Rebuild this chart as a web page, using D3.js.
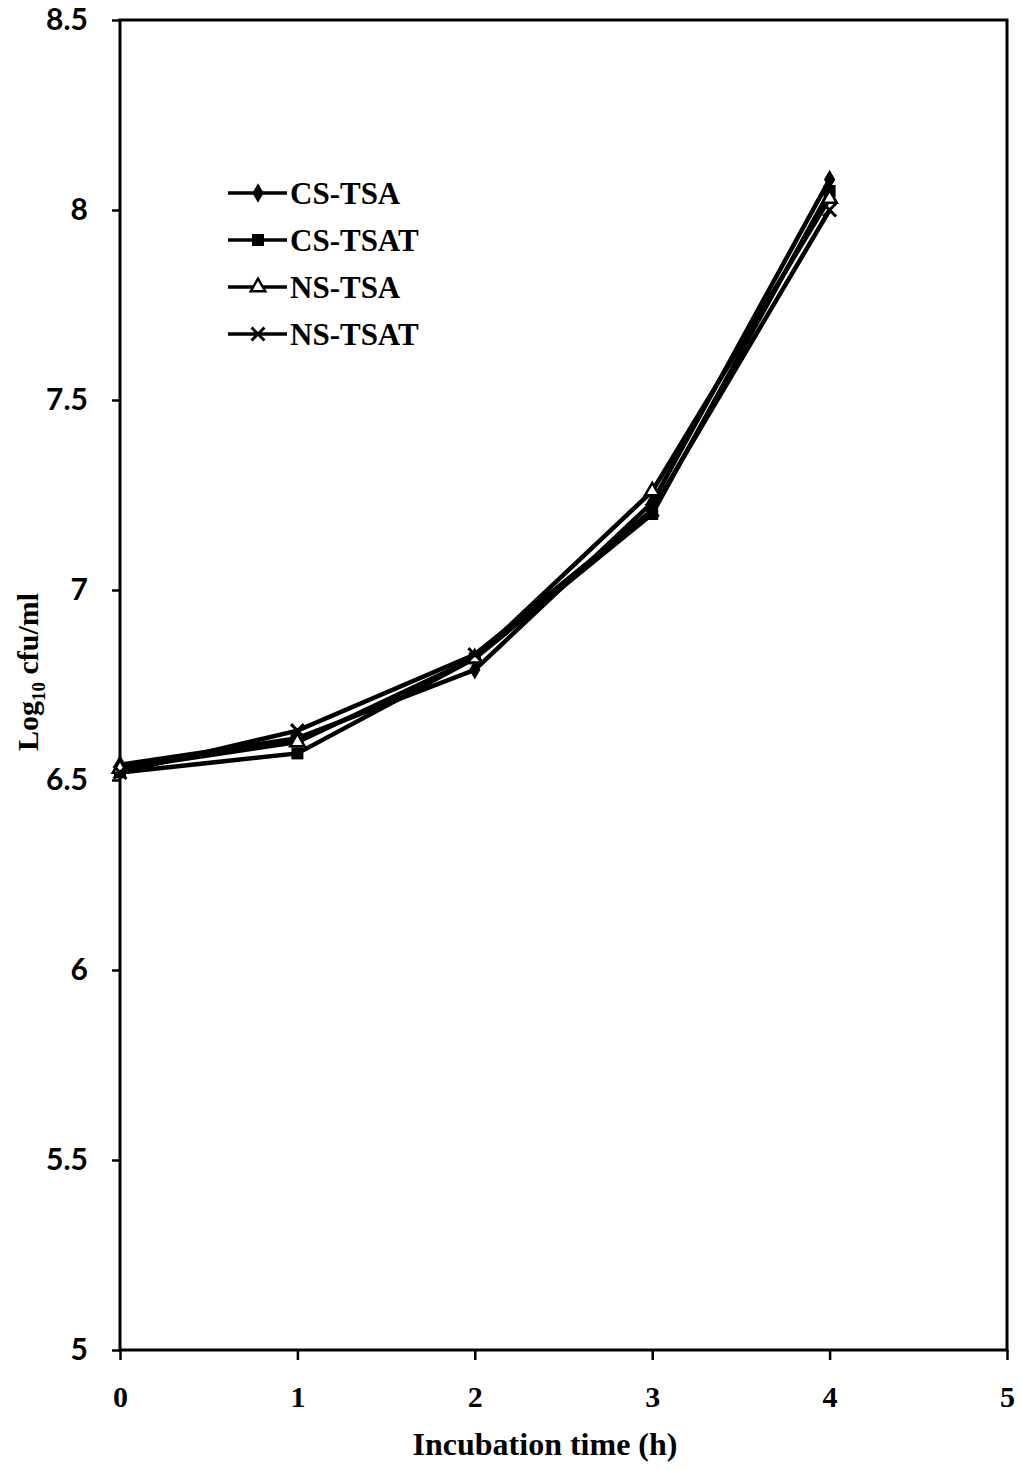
<!DOCTYPE html>
<html>
<head>
<meta charset="utf-8">
<script src="https://cdn.jsdelivr.net/npm/d3@7"></script>
<style>
  body { margin: 0; background: #fff; }
  svg { display: block; }
</style>
</head>
<body>
<svg id="chart" width="1021" height="1470"></svg>
<script>
const hours = [0, 1, 2, 3, 4];
const csTsa = [6.54, 6.61, 6.79, 7.23, 8.08];
const csTsat = [6.52, 6.57, 6.82, 7.20, 8.05];
const nsTsa = [6.53, 6.60, 6.82, 7.26, 8.03];
const nsTsat = [6.52, 6.63, 6.83, 7.21, 8.00];
const seriesNames = ["CS-TSA", "CS-TSAT", "NS-TSA", "NS-TSAT"];
const markers = ["diamond", "square", "triangle", "cross"];
const xTicks = [0, 1, 2, 3, 4, 5];
const yTicks = [5, 5.5, 6, 6.5, 7, 7.5, 8, 8.5];

const svg = d3.select("#chart");
const mLeft = 120, mRight = 1007, mTop = 20, mBottom = 1350;

const x = d3.scaleLinear().domain([0, 5]).range([mLeft, mRight]);
const y = d3.scaleLinear().domain([5, 8.5]).range([mBottom, mTop]);

// frame
svg.append("rect")
  .attr("x", mLeft).attr("y", mTop)
  .attr("width", mRight - mLeft).attr("height", mBottom - mTop)
  .attr("fill", "none").attr("stroke", "#000").attr("stroke-width", 3);

let yAxis = svg.append("g")
  .attr("transform", `translate(${mLeft},0)`)
  .call(d3.axisLeft(y).tickValues(yTicks).tickSize(8).tickPadding(24)
    .tickFormat(d => d3.format("")(d)));
yAxis.select(".domain").remove();
yAxis.selectAll("line").attr("stroke-width", 2.5);
yAxis.selectAll("text").attr("font-size", 30).attr("fill", "#000")
  .attr("font-family", "Lato, sans-serif").attr("font-weight", "bold");

let xAxis = svg.append("g")
  .attr("transform", `translate(0,${mBottom})`)
  .call(d3.axisBottom(x).tickValues(xTicks).tickSize(10).tickPadding(26)
    .tickFormat(d3.format("d")));
xAxis.select(".domain").remove();
xAxis.selectAll("line").attr("stroke-width", 2.5);
xAxis.selectAll("text").attr("font-size", 30).attr("fill", "#000")
  .attr("font-family", "Liberation Serif, serif").attr("font-weight", "bold");

// titles
svg.append("text")
  .attr("x", 545).attr("y", 1455)
  .attr("text-anchor", "middle")
  .attr("font-family", "Liberation Serif, serif").attr("font-weight", "bold")
  .attr("font-size", 32)
  .text("Incubation time (h)");

let yt = svg.append("text")
  .attr("transform", "translate(38,672) rotate(-90)")
  .attr("text-anchor", "middle")
  .attr("font-family", "Liberation Serif, serif").attr("font-weight", "bold")
  .attr("font-size", 30);
yt.append("tspan").text("Log");
yt.append("tspan").attr("font-size", 19).attr("dy", 7).text("10");
yt.append("tspan").attr("dy", -7).text(" cfu/ml");

function drawMarker(g, type, cx, cy) {
  if (type == "diamond") {
    g.append("path").attr("d", d3.symbol(d3.symbolDiamond, 110)())
      .attr("transform", `translate(${cx},${cy})`).attr("fill", "#000");
  } else if (type == "square") {
    g.append("rect").attr("x", cx - 6).attr("y", cy - 6)
      .attr("width", 12).attr("height", 12).attr("fill", "#000");
  } else if (type == "triangle") {
    g.append("path").attr("d", d3.symbol(d3.symbolTriangle, 90)())
      .attr("transform", `translate(${cx},${cy})`)
      .attr("fill", "#fff").attr("stroke", "#000").attr("stroke-width", 2.5);
  } else {
    g.append("path").attr("d", d3.symbol(d3.symbolX, 110)())
      .attr("transform", `translate(${cx},${cy})`)
      .attr("fill", "none").attr("stroke", "#000").attr("stroke-width", 3);
  }
}

const allSeries = [csTsa, csTsat, nsTsa, nsTsat];
const line = d3.line().x((d, i) => x(hours[i])).y(d => y(d));

allSeries.forEach((vals, k) => {
  let g = svg.append("g");
  g.append("path").datum(vals)
    .attr("d", line).attr("fill", "none")
    .attr("stroke", "#000").attr("stroke-width", 4.5);
  vals.forEach((v, i) => drawMarker(g, markers[k], x(hours[i]), y(v)));
});

// legend
seriesNames.forEach((name, k) => {
  let ly = 193 + k * 47;
  let g = svg.append("g");
  g.append("line").attr("x1", 228).attr("x2", 287)
    .attr("y1", ly).attr("y2", ly)
    .attr("stroke", "#000").attr("stroke-width", 3.5);
  drawMarker(g, markers[k], 258, ly);
  g.append("text").attr("x", 290).attr("y", ly + 11)
    .attr("font-family", "Liberation Serif, serif").attr("font-weight", "bold")
    .attr("font-size", 31).text(name);
});
</script>
</body>
</html>
